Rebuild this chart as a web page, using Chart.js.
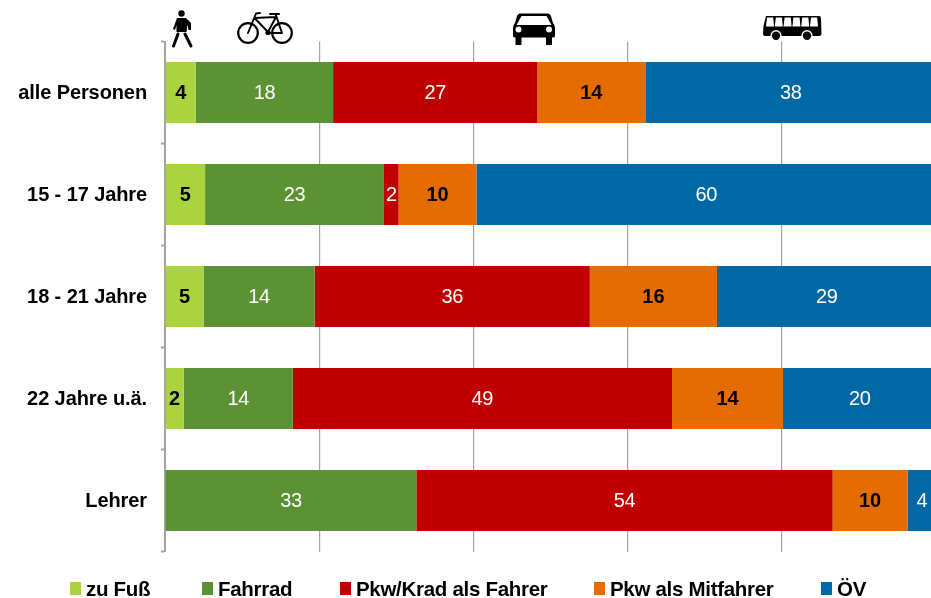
<!DOCTYPE html>
<html lang="de">
<head>
<meta charset="utf-8">
<title>Verkehrsmittelwahl</title>
<script src="https://cdn.jsdelivr.net/npm/chart.js@4"></script>
<style>
html,body{margin:0;padding:0;width:931px;height:598px;overflow:hidden;background:#fff}
#wrap{position:relative;width:931px;height:598px;overflow:hidden}
canvas{position:absolute;left:0;top:0}
#legend{position:absolute;left:0;top:577px;height:21px;width:931px;font:bold 20.5px "Liberation Sans",sans-serif;letter-spacing:-0.3px;color:#000;line-height:24px}
#legend span.i{position:absolute;top:0;white-space:nowrap}
#legend b{position:absolute;top:5px;left:0;width:11px;height:13px}
#legend em{font-style:normal;position:absolute;left:16px;top:0}
</style>
</head>
<body>
<div id="wrap">
<canvas id="c" width="940" height="598"></canvas>
<div id="legend"></div>
</div>
<script>
const categories = ["alle Personen", "15 - 17 Jahre", "18 - 21 Jahre", "22 Jahre u.ä.", "Lehrer"];
const seriesNames = ["zu Fuß", "Fahrrad", "Pkw/Krad als Fahrer", "Pkw als Mitfahrer", "ÖV"];
const zuFuss   = [4.0, 5.2, 5.0, 2.43, 0];
const fahrrad  = [17.8, 23.2, 14.4, 14.13, 32.6];
const pkwFahrer= [26.5, 1.9, 35.7, 49.2, 54.0];
const pkwMit   = [14.0, 10.1, 16.49, 14.4, 9.7];
const oev      = [37.7, 59.6, 28.5, 19.9, 3.7];
const colors = ["#AAD33F", "#5C9134", "#C00000", "#E46C00", "#0069A5"];
const labelColors = ["#000", "#fff", "#fff", "#000", "#fff"];
const labelBold = [true, false, false, true, false];
const legendLeft = [70, 202, 340, 594, 821];

const values = [zuFuss, fahrrad, pkwFahrer, pkwMit, oev];
const GREY = "#a3a3a3";

function drawPedestrian(ctx){
  ctx.fillStyle = "#000"; ctx.strokeStyle = "#000"; ctx.lineCap = "round"; ctx.lineJoin = "round";
  ctx.beginPath(); ctx.arc(181.5, 13.5, 3.2, 0, Math.PI*2); ctx.fill();
  ctx.beginPath();
  ctx.moveTo(177,18); ctx.lineTo(186,18); ctx.lineTo(191,23); ctx.lineTo(191,30); ctx.lineTo(188.5,30);
  ctx.lineTo(187.5,24.5); ctx.lineTo(186.5,32); ctx.lineTo(176.5,32); ctx.lineTo(176.5,25); ctx.lineTo(175,30); ctx.lineTo(173,29);
  ctx.closePath(); ctx.fill();
  ctx.lineWidth = 3;
  ctx.beginPath(); ctx.moveTo(178,34); ctx.lineTo(173.5,46); ctx.stroke();
  ctx.beginPath(); ctx.moveTo(185,34); ctx.lineTo(191,46); ctx.stroke();
}
function drawBike(ctx){
  ctx.strokeStyle = "#000"; ctx.lineCap = "round"; ctx.lineJoin = "round";
  ctx.lineWidth = 2.2;
  ctx.beginPath(); ctx.arc(248, 33, 9.8, 0, Math.PI*2); ctx.stroke();
  ctx.beginPath(); ctx.arc(282, 33, 9.8, 0, Math.PI*2); ctx.stroke();
  ctx.lineWidth = 1.9;
  ctx.beginPath();
  ctx.moveTo(248,33); ctx.lineTo(256,13.5); ctx.lineTo(260,13);
  ctx.moveTo(254.5,18); ctx.lineTo(268,32); ctx.lineTo(276,17); ctx.lineTo(254.5,18);
  ctx.moveTo(268,33); ctx.lineTo(282,33); ctx.lineTo(275.5,14);
  ctx.moveTo(270,14); ctx.lineTo(279,14);
  ctx.stroke();
  ctx.fillStyle="#000";
  ctx.beginPath(); ctx.arc(268,32.5,2.6,0,Math.PI*2); ctx.fill();
}
function drawCar(ctx){
  ctx.fillStyle = "#000";
  ctx.beginPath();
  ctx.moveTo(520,13.5); ctx.lineTo(548,13.5); ctx.quadraticCurveTo(550,13.5,551,16);
  ctx.lineTo(553,23); ctx.quadraticCurveTo(555,25,555,28); ctx.lineTo(555,36); ctx.quadraticCurveTo(555,37.5,553,37.5);
  ctx.lineTo(515,37.5); ctx.quadraticCurveTo(513,37.5,513,36); ctx.lineTo(513,28); ctx.quadraticCurveTo(513,25,515,23);
  ctx.lineTo(517,16); ctx.quadraticCurveTo(518,13.5,520,13.5);
  ctx.closePath(); ctx.fill();
  ctx.fillRect(515.5,37,6,8); ctx.fillRect(546,37,6,8);
  ctx.fillStyle = "#fff";
  ctx.beginPath(); ctx.moveTo(521.5,16); ctx.lineTo(546.5,16); ctx.lineTo(551.5,25); ctx.lineTo(516.5,25); ctx.closePath(); ctx.fill();
  ctx.beginPath(); ctx.arc(518.5,29.5,3,0,Math.PI*2); ctx.fill();
  ctx.beginPath(); ctx.arc(549,29.5,3,0,Math.PI*2); ctx.fill();
}
function drawBus(ctx){
  ctx.fillStyle = "#000";
  ctx.beginPath();
  ctx.moveTo(766,16); ctx.lineTo(819,16); ctx.quadraticCurveTo(821,16,821,19); ctx.lineTo(821.5,34);
  ctx.quadraticCurveTo(821.5,36,819,36); ctx.lineTo(765,36); ctx.quadraticCurveTo(763,36,763,34);
  ctx.lineTo(763.5,26); ctx.closePath(); ctx.fill();
  ctx.fillStyle = "#fff";
  [766,774.8,783.6,792.4,801.2,810].forEach((x)=>{
    const w = 7.2;
    ctx.beginPath();
    ctx.moveTo(x+1,17.5); ctx.lineTo(x+w,17.5); ctx.lineTo(x+w+0.8,26.5); ctx.lineTo(x,26.5); ctx.closePath(); ctx.fill();
  });
  [776,807].forEach(x=>{
    ctx.fillStyle="#fff"; ctx.beginPath(); ctx.arc(x,35.7,5.6,0,Math.PI*2); ctx.fill();
    ctx.fillStyle="#000"; ctx.beginPath(); ctx.arc(x,35.7,4.2,0,Math.PI*2); ctx.fill();
  });
}

const setSpacing = {
  id: "setSpacing",
  beforeDraw(chart){ chart.ctx.letterSpacing = "-0.1px"; }
};
const valueLabels = {
  id: "valueLabels",
  afterDatasetsDraw(chart){
    const ctx = chart.ctx;
    ctx.save();
    ctx.textAlign = "center"; ctx.textBaseline = "middle";
    chart.data.datasets.forEach((ds, d) => {
      ctx.letterSpacing = labelBold[d] ? "0px" : "-0.4px";
      ctx.font = (labelBold[d] ? "bold " : "") + '20px "Liberation Sans", sans-serif';
      ctx.fillStyle = labelColors[d];
      chart.getDatasetMeta(d).data.forEach((bar, i) => {
        const v = Math.round(ds.data[i]);
        if (!v) return;
        ctx.fillText(String(v), (bar.x + bar.base) / 2, bar.y + 1);
      });
    });
    ctx.restore();
  }
};
const icons = {
  id: "icons",
  afterDraw(chart){
    const ctx = chart.ctx;
    ctx.save();
    drawPedestrian(ctx); drawBike(ctx); drawCar(ctx); drawBus(ctx);
    ctx.restore();
  }
};

new Chart(document.getElementById("c"), {
  type: "bar",
  data: {
    labels: categories,
    datasets: seriesNames.map((name, i) => ({
      label: name,
      data: values[i],
      backgroundColor: colors[i],
      borderWidth: 0,
      barPercentage: 0.6,
      categoryPercentage: 1
    }))
  },
  options: {
    indexAxis: "y",
    responsive: false,
    animation: false,
    layout: { padding: { top: 41.5, right: 4, bottom: 46.5, left: 0 } },
    plugins: { legend: { display: false }, tooltip: { enabled: false }, title: { display: false } },
    scales: {
      x: {
        stacked: true, min: 0, max: 100,
        afterFit(s){ s.height = 0; },
        ticks: { display: false, stepSize: 20 },
        border: { display: false },
        grid: { color: GREY, lineWidth: 1.2, drawTicks: false }
      },
      y: {
        stacked: true,
        afterFit(s){ s.width = 165; },
        border: { display: true, color: GREY, width: 2 },
        grid: { drawOnChartArea: false, drawTicks: true, tickLength: 4, tickColor: GREY, tickWidth: 2 },
        ticks: { color: "#000", padding: 14, labelOffset: 1, font: { family: '"Liberation Sans", sans-serif', size: 20, weight: "bold" } }
      }
    }
  },
  plugins: [setSpacing, valueLabels, icons]
});

const legendEl = document.getElementById("legend");
seriesNames.forEach((name, i) => {
  const item = document.createElement("span");
  item.className = "i";
  item.style.left = legendLeft[i] + "px";
  const box = document.createElement("b");
  box.style.background = colors[i];
  const txt = document.createElement("em");
  txt.textContent = name;
  item.appendChild(box); item.appendChild(txt);
  legendEl.appendChild(item);
});
</script>
</body>
</html>
